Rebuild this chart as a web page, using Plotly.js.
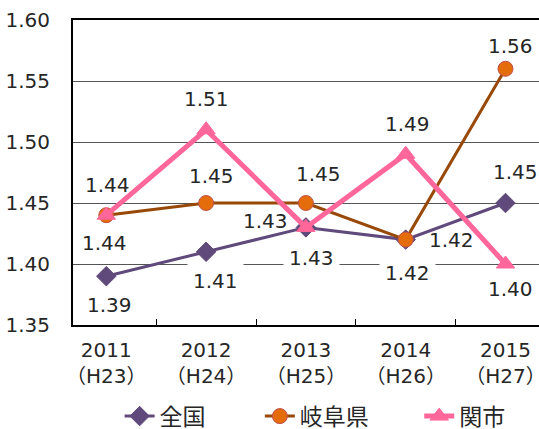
<!DOCTYPE html>
<html>
<head>
<meta charset="utf-8">
<script src="https://cdn.plot.ly/plotly-3.0.1.min.js"></script>
<style>html,body{margin:0;padding:0;background:#fff;}#chart{width:539px;height:429px;}</style>
</head>
<body>
<div id="chart"></div>
<script>
// ---- data ----
var categories = ["2011<br>（H23）", "2012<br>（H24）", "2013<br>（H25）", "2014<br>（H26）", "2015<br>（H27）"];
var seriesNames = ["全国", "岐阜県", "関市"];
var zenkoku = [1.39, 1.41, 1.43, 1.42, 1.45];
var gifu    = [1.44, 1.45, 1.45, 1.42, 1.56];
var seki    = [1.44, 1.51, 1.43, 1.49, 1.40];
var yTickVals = [1.35, 1.40, 1.45, 1.50, 1.55, 1.60];

// ---- styles ----
var FONT = "DejaVu Sans, Noto Sans CJK JP, sans-serif";
var TEXTCOLOR = "#262626";
var styles = [
  {color: "#604A7B", width: 3, symbol: "diamond", size: 15, mcolor: "#604A7B", mline: "#604A7B"},
  {color: "#984807", width: 3, symbol: "circle", size: 15, mcolor: "#E46C0A", mline: "#C0504D"},
  {color: "#FF6699", width: 5, symbol: "triangle-up", size: 16, mcolor: "#FF6699", mline: "#FF6699"}
];
var legendIds = ["legend", "legend2", "legend3"];
var legendX = [0.1, 0.401, 0.743];
// label offsets in px: [dx, dy(down positive), white background?]
var labelOffsets = [
  [[3, 29, 0], [9, 29, 1], [6, 31, 1], [2, 33, 1], [10, -31, 0]],
  [[1, -30, 0], [5, -27, 0], [13, -29, 0], [46, 0, 0], [5, -23, 0]],
  [[-2, 28, 0], [0, -31, 0], [-40, -6, 0], [2, -30, 0], [5, 25, 0]]
];

var allValues = [zenkoku, gifu, seki];
var traces = [];
var annotations = [];
for (var s = 0; s < allValues.length; s++) {
  var st = styles[s];
  traces.push({
    type: "scatter", mode: "lines+markers", name: seriesNames[s],
    x: categories, y: allValues[s], legend: legendIds[s],
    line: {color: st.color, width: st.width},
    marker: {symbol: st.symbol, size: st.size, color: st.mcolor, line: {color: st.mline, width: 1}},
    cliponaxis: false
  });
  for (var i = 0; i < categories.length; i++) {
    var off = labelOffsets[s][i];
    annotations.push({
      x: categories[i], y: allValues[s][i], xref: "x", yref: "y",
      text: allValues[s][i].toFixed(2), showarrow: false,
      xshift: off[0], yshift: -off[1],
      font: {family: FONT, size: 20, color: TEXTCOLOR},
      bgcolor: off[2] ? "#ffffff" : "rgba(0,0,0,0)",
      borderpad: off[2] ? 5 : 0
    });
  }
}

var layout = {
  width: 539, height: 429,
  margin: {l: 73, r: 0, t: 20, b: 104},
  paper_bgcolor: "#ffffff", plot_bgcolor: "#ffffff",
  showlegend: true,
  font: {family: FONT, size: 20, color: TEXTCOLOR},
  xaxis: {
    type: "category", showline: true, linecolor: "#000", linewidth: 2, mirror: true,
    ticks: "inside", tickson: "boundaries", ticklen: 6, tickcolor: "#000", tickwidth: 1,
    showgrid: false, zeroline: false, ticklabelstandoff: 6,
    tickfont: {family: FONT, size: 20, color: TEXTCOLOR}, fixedrange: true
  },
  yaxis: {
    range: [1.35, 1.60], tickvals: yTickVals, ticktext: yTickVals.map(function(v){return v.toFixed(2);}),
    showline: true, linecolor: "#000", linewidth: 2, mirror: false,
    showgrid: true, gridcolor: "#555", gridwidth: 1, zeroline: false,
    ticks: "", ticklabelstandoff: 17,
    tickfont: {family: FONT, size: 20, color: TEXTCOLOR}, fixedrange: true
  },
  annotations: annotations,
  hovermode: false
};
for (var k = 0; k < legendIds.length; k++) {
  layout[legendIds[k]] = {
    orientation: "h", x: legendX[k], xanchor: "left", xref: "paper",
    y: 0.03, yanchor: "middle", yref: "container",
    font: {family: FONT, size: 23, color: TEXTCOLOR},
    bgcolor: "rgba(0,0,0,0)", borderwidth: 0
  };
}

Plotly.newPlot("chart", traces, layout, {displayModeBar: false, staticPlot: true});
</script>
</body>
</html>
